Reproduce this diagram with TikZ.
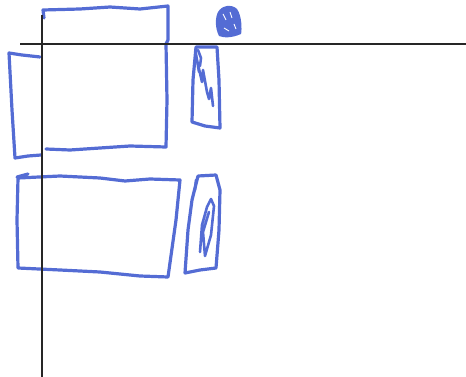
\documentclass[tikz,border=0pt]{standalone}
\definecolor{pen}{RGB}{84,108,212}
\tikzset{
  axis/.style={draw=black!85, line width=1.8pt},
  ink/.style={draw=pen, line width=3.2pt, line join=round, line cap=round},
  scrib/.style={draw=pen, line width=2.6pt, line join=round, line cap=round},
}
\begin{document}
\begin{tikzpicture}[x=1pt,y=-1pt]
\useasboundingbox (0,0) rectangle (466,377);
% back rectangle (left, partly hidden)
\draw[ink] (40,57) -- (22,55) -- (9,53) -- (12,110) -- (15,158) -- (28,156) -- (41,155);
% top big rectangle
\draw[ink] (44,18) -- (43,10) -- (80,9) -- (110,7) -- (140,9) -- (168,6) -- (168,40) -- (166,44)
  -- (167,100) -- (166,147) -- (130,146) -- (100,148) -- (70,150) -- (46,149);
% small blob
\fill[pen] (218,12) .. controls (222,5) and (232,4) .. (237,9)
  .. controls (242,16) and (242,30) .. (241,34)
  .. controls (232,38) and (224,38) .. (219,36)
  .. controls (215,28) and (215,18) .. (218,12) -- cycle;
\draw[white, line width=0.9pt] (223,14) -- (226,20) (230,12) -- (232,18) (224,28) -- (229,31) (234,24) -- (236,29);
% tall narrow rectangle
\draw[ink] (196,47) -- (217,47) -- (219,80) -- (220,128) -- (205,126) -- (192,122) -- (193,80) -- (196,47);
\draw[scrib] (196,54) -- (199,72) -- (197,60) -- (202,82) -- (203,70) -- (207,92) -- (209,99) -- (211,88) -- (213,106)
  (198,50) -- (201,58) -- (200,66);
% lower rectangle
\draw[ink] (17,177) -- (28,174);
\draw[ink] (18,178) -- (60,176) -- (100,178) -- (125,181) -- (150,179) -- (180,180) -- (176,220) -- (168,277) -- (140,276) -- (100,272) -- (60,270) -- (18,268) -- (17,220) -- cycle;
% lower narrow shape
\draw[ink] (198,176) -- (216,175) -- (220,190) -- (219,230) -- (216,268) -- (200,270) -- (185,273) -- (188,230) -- (192,200) -- (198,176);
\draw[scrib] (200,252) -- (202,225) -- (207,207) -- (211,199) -- (214,206) -- (211,235) -- (205,256) -- (203,232) -- (209,212)
  (195,190) -- (196,180);
% axes
\draw[axis] (20,44) -- (466,44);
\draw[axis] (42,15) -- (42,377);
\end{tikzpicture}
\end{document}
